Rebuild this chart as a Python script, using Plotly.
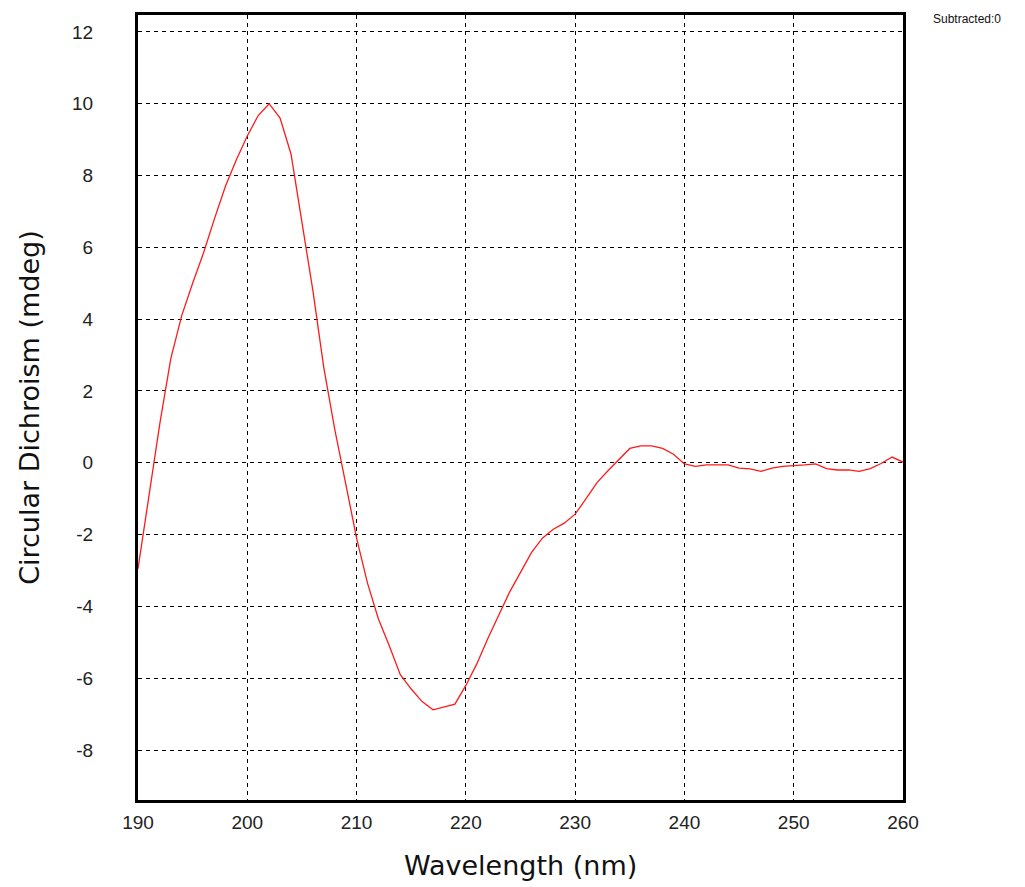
import plotly.graph_objects as go

wavelength = list(range(190, 261))
cd_mdeg = [
    -2.95, -0.95, 1.1, 2.9, 4.1, 5.0, 5.85, 6.8, 7.7, 8.44,
    9.1, 9.67, 10.0, 9.6, 8.6, 6.7, 4.8, 2.65, 0.94, -0.57,
    -2.1, -3.35, -4.35, -5.1, -5.9, -6.3, -6.65, -6.88, -6.8, -6.72,
    -6.2, -5.6, -4.9, -4.25, -3.6, -3.05, -2.5, -2.1, -1.85, -1.68,
    -1.43, -1.0, -0.55, -0.22, 0.1, 0.4, 0.47, 0.47, 0.4, 0.24,
    -0.03, -0.1, -0.06, -0.06, -0.06, -0.15, -0.17, -0.24, -0.15, -0.1,
    -0.09, -0.06, -0.03, -0.16, -0.2, -0.2, -0.24, -0.16, -0.02, 0.16,
    0.02,
]
x_ticks = [190, 200, 210, 220, 230, 240, 250, 260]
y_ticks = [-8, -6, -4, -2, 0, 2, 4, 6, 8, 10, 12]

tick_font = dict(family="Liberation Sans Narrow, Liberation Sans, Arial", size=19, color="#222")
title_font = dict(family="DejaVu Sans, Verdana", size=27, color="#111")

fig = go.Figure()
fig.add_trace(go.Scatter(x=wavelength, y=cd_mdeg, mode="lines",
                         line=dict(color="#ff1a1a", width=1.3), showlegend=False))

fig.update_layout(
    width=1025, height=887,
    margin=dict(l=138, r=122, t=12, b=87),
    paper_bgcolor="white", plot_bgcolor="white",
    xaxis=dict(range=[190, 260], tickvals=x_ticks, ticktext=[str(v) for v in x_ticks],
               showgrid=True,
               gridcolor="black", griddash="4px,4px", gridwidth=1.2,
               showline=True, linecolor="black", linewidth=3, mirror=True,
               zeroline=False, ticks="", tickfont=tick_font, ticklabelstandoff=3),
    yaxis=dict(range=[-9.39, 12.47], tickvals=y_ticks, ticktext=[str(v) for v in y_ticks],
               showgrid=True,
               gridcolor="black", griddash="4px,4px", gridwidth=1.2,
               showline=True, linecolor="black", linewidth=3, mirror=True,
               zeroline=False, ticks="", tickfont=tick_font, ticklabelstandoff=38),
    annotations=[
        dict(text="Wavelength (nm)", xref="paper", yref="paper", x=0.5, y=-0.083,
             xanchor="center", yanchor="middle", showarrow=False, font=title_font),
        dict(text="Circular Dichroism (mdeg)", xref="paper", yref="paper", x=-0.142, y=0.5,
             xanchor="center", yanchor="middle", showarrow=False, textangle=-90, font=title_font),
        dict(text="Subtracted:0", xref="paper", yref="paper", x=1.037, y=1.006,
             xanchor="left", yanchor="top", showarrow=False,
             font=dict(family="Liberation Sans, Arial", size=12, color="#111")),
    ],
)
fig.write_html("out.html")
